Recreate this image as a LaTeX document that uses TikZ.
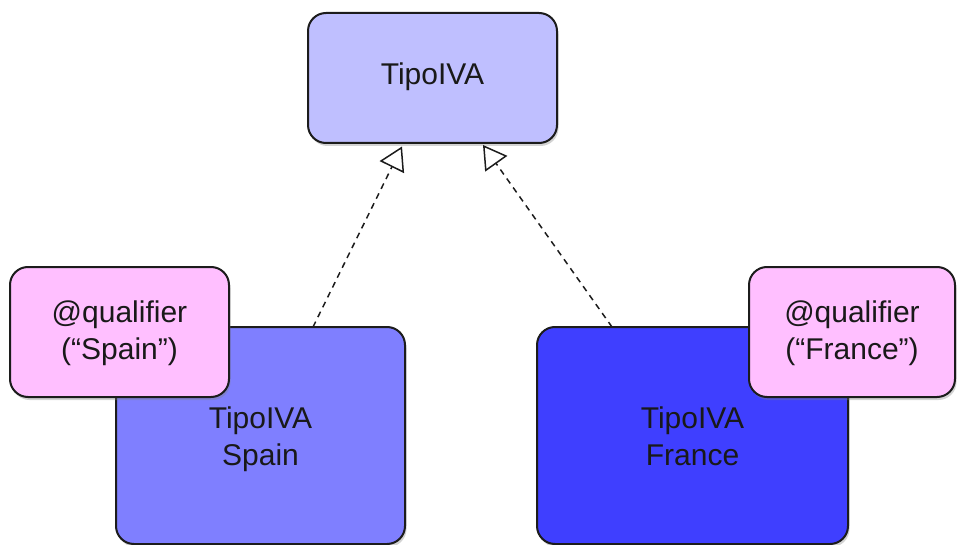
\documentclass[tikz,border=0pt]{standalone}
\usepackage{fontspec}
\setmainfont{Liberation Sans}
\usetikzlibrary{arrows.meta,shadows}

\definecolor{boxline}{HTML}{1C1C1C}
\definecolor{basefill}{HTML}{BFBFFF}
\definecolor{spainfill}{HTML}{7F7FFF}
\definecolor{francefill}{HTML}{3F3FFF}
\definecolor{qualfill}{HTML}{FFBFFF}

% every line gets the same height and depth, so blocks centre alike
\newcommand{\evenline}[1]{\vphantom{(}#1}

\tikzset{
  box/.style={draw=boxline, line width=2pt, rounded corners=18pt,
    inner sep=0pt, outer sep=0pt,
    drop shadow={shadow xshift=1.5pt, shadow yshift=-3pt, opacity=0.35}},
  boxtext/.style={inner sep=0pt, outer sep=0pt, align=center, text=black!90,
    font=\fontsize{30}{37}\selectfont},
  realize/.style={draw=boxline, line width=1.5pt, dash pattern=on 6pt off 5pt,
    -{Triangle[open, length=23pt, width=27pt, line width=1.5pt]}}
}

\begin{document}
\begin{tikzpicture}[x=1pt, y=-1pt]
  \useasboundingbox (0,0) rectangle (957,545);

  % interface
  \node[box, fill=basefill, minimum width=249pt, minimum height=130pt]
    (base) at (432.5,78) {};
  \node[boxtext] (baseText) at ([yshift=1.5pt]base.center) {\evenline{TipoIVA}};

  % implementations
  \node[box, fill=spainfill, minimum width=289pt, minimum height=217pt]
    (spain) at (260.5,435.5) {};
  \node[boxtext] (spainText) at ([yshift=-3.6pt]spain.center)
    {\evenline{TipoIVA}\\\evenline{Spain}};
  \node[box, fill=francefill, minimum width=311pt, minimum height=217pt]
    (france) at (692.5,435.5) {};
  \node[boxtext] (franceText) at ([yshift=-3.6pt]france.center)
    {\evenline{TipoIVA}\\\evenline{France}};

  % qualifier annotations
  \node[box, fill=qualfill, minimum width=219pt, minimum height=130pt]
    (qspain) at (119.5,332) {};
  \node[boxtext] (qspainText) at ([yshift=-1.7pt]qspain.center)
    {\evenline{@qualifier}\\\evenline{(“Spain”)}};
  \node[box, fill=qualfill, minimum width=206pt, minimum height=130pt]
    (qfrance) at (852,332) {};
  \node[boxtext] (qfranceText) at ([yshift=-1.7pt]qfrance.center)
    {\evenline{@qualifier}\\\evenline{(“France”)}};

  % realization arrows
  \draw[realize] ([xshift=52.5pt]spain.north) -- ([xshift=-30.5pt,yshift=-3.5pt]base.south);
  \draw[realize] ([xshift=-80.5pt]france.north) -- ([xshift=50.5pt,yshift=-2pt]base.south);
\end{tikzpicture}
\end{document}
